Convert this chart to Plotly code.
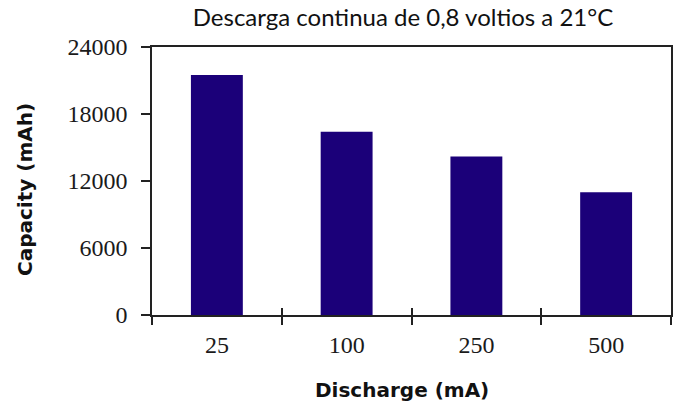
import plotly.graph_objects as go

categories = ["25", "100", "250", "500"]
capacity = [21500, 16400, 14200, 11000]
y_ticks = [0, 6000, 12000, 18000, 24000]
y_tick_labels = ["0", "6000", "12000", "18000", "24000"]

title_text = "Descarga continua de 0,8 voltios a 21°C"
x_title = "Discharge (mA)"
y_title = "Capacity (mAh)"

W, H = 673, 408
L, R, T, B = 152, 2, 47, 93

fig = go.Figure()
fig.add_trace(go.Bar(x=categories, y=capacity, marker=dict(color="#1b0079", line=dict(width=0)),
                     width=0.4, showlegend=False, hoverinfo="x+y"))

tick_font = dict(family="Liberation Serif", size=24, color="#1a1a1a")

fig.update_layout(
    width=W, height=H,
    margin=dict(l=L, r=R, t=T, b=B, autoexpand=False),
    paper_bgcolor="white", plot_bgcolor="white",
    title=dict(text=title_text, x=403 / W, xref="container", xanchor="center",
               y=1 - 18 / H, yref="container", yanchor="middle",
               font=dict(family="Lato", size=24, color="#111")),
    xaxis=dict(type="category", tickson="boundaries", ticks="outside", ticklen=8, tickwidth=1.5,
               tickcolor="#222", showline=True, linecolor="#222", linewidth=1.5, mirror=True,
               showgrid=False, tickfont=tick_font, ticklabelstandoff=7, automargin=False),
    xaxis2=dict(type="category", overlaying="x", matches="x", tickson="boundaries", ticks="inside",
                ticklen=7, tickwidth=1.5, tickcolor="#222", showticklabels=False, showgrid=False,
                showline=False, side="bottom", automargin=False),
    yaxis=dict(range=[0, 24000], tickvals=y_ticks, ticktext=y_tick_labels, ticks="outside",
               ticklen=9, tickwidth=1.5, tickcolor="#222", showline=True, linecolor="#222",
               linewidth=1.5, mirror=True, showgrid=False, zeroline=False, tickfont=tick_font,
               ticklabelstandoff=9, automargin=False),
    annotations=[
        dict(text=x_title, xref="paper", yref="paper", x=(402 - L) / (W - L - R),
             y=-(390 - (H - B)) / (H - T - B), xanchor="center", yanchor="middle", showarrow=False,
             font=dict(family="DejaVu Sans", size=20, color="#111", weight="bold")),
        dict(text=y_title, xref="paper", yref="paper", x=-(L - 25) / (W - L - R),
             y=((H - B) - 190) / (H - T - B), xanchor="center", yanchor="middle", showarrow=False,
             textangle=-90, font=dict(family="DejaVu Sans", size=20, color="#111", weight="bold")),
    ],
)
# invisible trace to activate the overlaying axis carrying inside ticks
fig.add_trace(go.Bar(x=categories, y=[None] * len(categories), xaxis="x2", showlegend=False,
                     hoverinfo="skip"))

fig.write_html("out.html", config={"displayModeBar": False},
               post_script="document.body.style.margin='0';document.body.style.overflow='hidden';")
